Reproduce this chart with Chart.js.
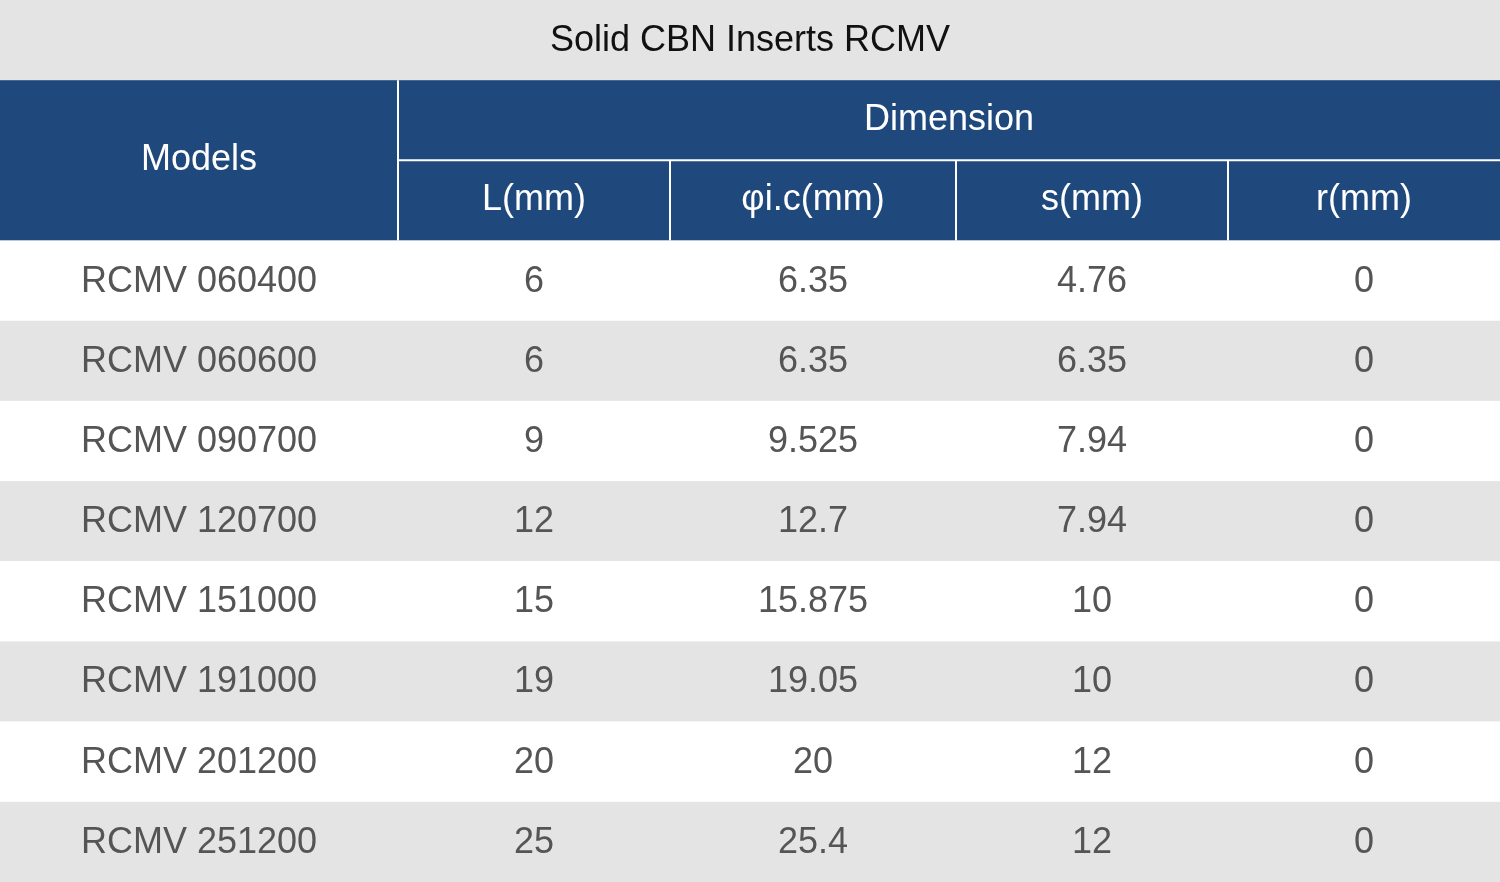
<!DOCTYPE html>
<html><head><meta charset="utf-8">
<script src="https://cdn.jsdelivr.net/npm/chart.js@4"></script>
<style>html,body{margin:0;padding:0;background:#fff}#w{width:1500px;height:882px}</style>
</head><body><div id="w"><canvas id="c"></canvas></div>
<script>
const title = "Solid CBN Inserts RCMV";
const groupHeader = "Dimension";
const firstHeader = "Models";
const columns = ["L(mm)", "φi.c(mm)", "s(mm)", "r(mm)"];
const models = ["RCMV 060400","RCMV 060600","RCMV 090700","RCMV 120700","RCMV 151000","RCMV 191000","RCMV 201200","RCMV 251200"];
const colL = ["6","6","9","12","15","19","20","25"];
const colIC = ["6.35","6.35","9.525","12.7","15.875","19.05","20","25.4"];
const colS = ["4.76","6.35","7.94","7.94","10","10","12","12"];
const colR = ["0","0","0","0","0","0","0","0"];

const rowLabels = ["title","h1","h2"].concat(models);
const edges = [0,398,670,956,1228,1500];
const FONT = '"Liberation Sans", Arial, sans-serif';

const tablePlugin = {
  id:'table',
  afterDraw(chart){
    const ctx = chart.ctx, x = chart.scales.x, y = chart.scales.y;
    const step = y.getPixelForValue(1) - y.getPixelForValue(0);
    const top = i => y.getPixelForValue(i) - step/2;
    const cx = i => (x.getPixelForValue(edges[i]) + x.getPixelForValue(edges[i+1]))/2;
    const X = v => x.getPixelForValue(v);
    ctx.save();
    ctx.textAlign='center'; ctx.textBaseline='middle';
    // title
    ctx.fillStyle='#e4e4e4'; ctx.fillRect(X(0),top(0),X(1500)-X(0),step);
    ctx.fillStyle='#111'; ctx.font='36px '+FONT;
    ctx.fillText(title, X(750), top(0)+step/2+1);
    // header
    ctx.fillStyle='#1f497d'; ctx.fillRect(X(0),top(1),X(1500)-X(0),step*2);
    ctx.fillStyle='#fff';
    ctx.fillText(firstHeader, cx(0), top(2));
    ctx.fillText(groupHeader, (X(edges[1])+X(1500))/2, top(1)+step/2);
    columns.forEach((c,i)=>ctx.fillText(c, cx(i+1), top(2)+step/2));
    ctx.strokeStyle='#fff'; ctx.lineWidth=2;
    ctx.beginPath();
    ctx.moveTo(X(edges[1]),top(1)); ctx.lineTo(X(edges[1]),top(3));
    ctx.moveTo(X(edges[1]),top(2)); ctx.lineTo(X(1500),top(2));
    for(let i=2;i<5;i++){ctx.moveTo(X(edges[i]),top(2)); ctx.lineTo(X(edges[i]),top(3));}
    ctx.stroke();
    // rows
    const cols=[models,colL,colIC,colS,colR];
    models.forEach((m,r)=>{
      const t=top(r+3);
      ctx.fillStyle = r%2 ? '#e4e4e4' : '#ffffff';
      ctx.fillRect(X(0),t,X(1500)-X(0),step);
      ctx.fillStyle='#555';
      cols.forEach((col,ci)=>ctx.fillText(col[r], cx(ci), t+step/2+1));
    });
    ctx.restore();
  }
};

new Chart(document.getElementById('c'),{
  type:'scatter',
  data:{labels:rowLabels,datasets:[{data:[],pointRadius:0}]},
  options:{
    responsive:true, maintainAspectRatio:false, animation:false,
    layout:{padding:0},
    plugins:{legend:{display:false},tooltip:{enabled:false}},
    scales:{
      x:{type:'linear',min:0,max:1500,display:false},
      y:{type:'category',labels:rowLabels,offset:true,display:false}
    }
  },
  plugins:[tablePlugin]
});
</script></body></html>
